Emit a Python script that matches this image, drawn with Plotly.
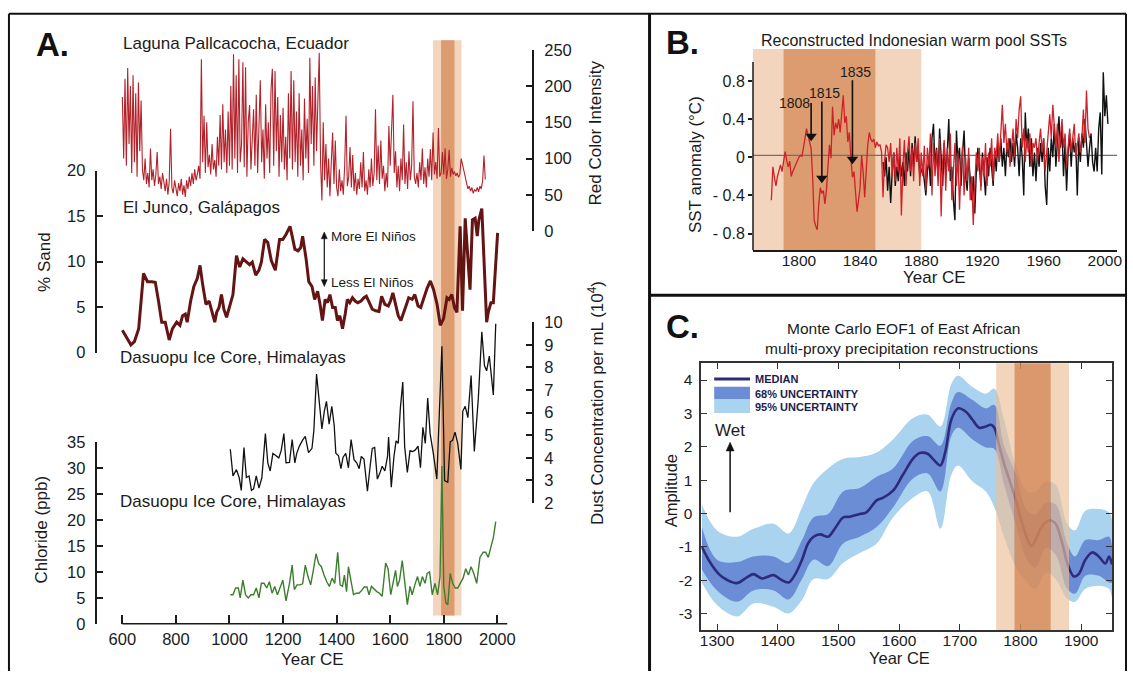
import plotly.graph_objects as go

W, H = 1133, 680
def fx(x): return x / W
def fy(y): return 1 - y / H

FONT = "Liberation Sans, Arial, Helvetica, sans-serif"
INK = "#1b1b1b"

# ---------------- Panel A data ----------------
# Laguna Pallcacocha red colour intensity, 5-year samples from 600 CE
pall_start = 600
pall_step = 5
pall_vals = [
    185, 100, 210, 90, 225, 120, 200, 80, 215, 95, 190, 75, 205, 110, 180, 85, 70, 100, 65, 80,
    60, 114, 70, 85, 62, 78, 109, 65, 75, 58, 80, 66, 55, 72, 50, 68, 141, 60, 52, 70,
    58, 48, 66, 55, 72, 50, 63, 47, 70, 58, 75, 62, 80, 65, 85, 70, 78, 90, 72, 237,
    95, 159, 80, 150, 88, 105, 78, 120, 85, 98, 75, 130, 90, 160, 85, 175, 95, 140, 80, 165,
    90, 200, 85, 244, 100, 215, 80, 237, 95, 120, 233, 88, 226, 75, 150, 174, 85, 130, 168, 90,
    188, 80, 160, 208, 95, 140, 72, 175, 100, 150, 80, 195, 224, 90, 221, 110, 185, 75, 160, 95,
    170, 85, 130, 70, 190, 100, 221, 85, 208, 95, 165, 75, 190, 90, 140, 70, 183, 100, 155, 80,
    239, 120, 200, 90, 212, 110, 180, 246, 95, 42, 150, 70, 120, 60, 100, 48, 95, 136, 65, 125,
    60, 48, 85, 55, 70, 50, 90, 159, 62, 75, 116, 60, 105, 55, 80, 50, 72, 58, 95, 60,
    109, 55, 70, 50, 85, 60, 100, 62, 80, 168, 70, 118, 65, 125, 72, 90, 55, 80, 60, 145,
    90, 130, 188, 80, 110, 60, 90, 55, 100, 70, 147, 65, 95, 58, 110, 70, 90, 179, 75, 65,
    80, 60, 95, 70, 114, 65, 88, 60, 100, 75, 113, 70, 136, 78, 95, 72, 142, 75, 80, 109,
    78, 114, 72, 85, 112, 75, 87, 78, 82, 76, 80, 74, 78, 100, 92, 87, 75, 66, 58, 62,
    55, 60, 52, 57, 55, 60, 54, 62, 58, 69, 104, 71,
]
pall_years = [pall_start + pall_step * i for i in range(len(pall_vals))]

# El Junco % sand
junco_years = [
    600, 617, 632, 645, 661, 679, 694, 710, 723, 735,
    747, 760, 775, 787, 803, 815, 825, 835, 842, 855,
    867, 880, 890, 900, 912, 924, 933, 945, 952, 961,
    970, 979, 989, 999, 1013, 1026, 1038, 1050, 1063, 1075,
    1085, 1098, 1110, 1119, 1131, 1143, 1156, 1171, 1187, 1199,
    1211, 1226, 1234, 1244, 1256, 1266, 1273, 1286, 1296, 1308,
    1318, 1329, 1338, 1347, 1357, 1366, 1375, 1385, 1395, 1403,
    1412, 1422, 1432, 1440, 1449, 1459, 1469, 1479, 1491, 1502,
    1511, 1521, 1533, 1546, 1558, 1568, 1580, 1593, 1601, 1610,
    1620, 1630, 1640, 1651, 1661, 1669, 1682, 1692, 1704, 1714,
    1725, 1738, 1750, 1762, 1775, 1787, 1799, 1812, 1820, 1830,
    1840, 1849, 1861, 1870, 1880, 1890, 1898, 1907, 1917, 1925,
    1931, 1942, 1951, 1960, 1966, 1976, 1985, 1995, 2001,
]
junco_vals = [
    2.46, 1.57, 0.86, 1.21, 2.64, 8.7, 7.8, 7.8, 7.74, 5.67,
    3.35, 3.35, 1.39, 2.64, 3.35, 3.0, 4.06, 4.24, 3.35, 5.67,
    7.27, 8.16, 9.59, 7.45, 5.31, 5.67, 4.6, 3.35, 4.42, 4.96,
    6.38, 4.78, 3.89, 4.96, 6.38, 10.66, 9.41, 10.3, 9.95, 9.66,
    9.95, 8.52, 9.06, 9.95, 12.44, 12.09, 10.12, 9.06, 12.44, 12.44,
    12.98, 13.87, 12.8, 11.37, 11.19, 11.55, 12.8, 10.3, 7.8, 7.27,
    5.85, 6.74, 5.31, 3.53, 5.85, 5.49, 6.38, 4.96, 4.96, 3.53,
    4.06, 2.64, 4.24, 5.85, 5.49, 6.03, 5.67, 5.49, 5.67, 6.03,
    6.2, 5.49, 4.78, 4.6, 4.53, 6.2, 5.31, 5.13, 5.67, 6.56,
    5.31, 4.06, 3.53, 4.6, 5.31, 6.03, 5.85, 6.38, 5.13, 4.96,
    6.03, 7.09, 7.88, 6.92, 5.31, 3.0, 3.71, 6.03, 5.85, 6.38,
    4.96, 4.42, 13.87, 4.6, 14.76, 10.3, 6.92, 14.58, 14.76, 12.8,
    14.58, 15.83, 10.3, 3.35, 4.42, 5.49, 5.49, 10.66, 13.16,
]

# Dasuopu dust concentration (10^4 per mL)
dust_years = [
    1003, 1013, 1026, 1036, 1044, 1054, 1063, 1073, 1082, 1090,
    1100, 1110, 1121, 1134, 1143, 1152, 1162, 1172, 1184, 1193,
    1203, 1211, 1224, 1234, 1244, 1251, 1261, 1273, 1283, 1295,
    1308, 1315, 1325, 1335, 1345, 1354, 1362, 1372, 1382, 1391,
    1397, 1407, 1416, 1424, 1434, 1444, 1454, 1465, 1475, 1484,
    1492, 1502, 1515, 1525, 1533, 1542, 1552, 1560, 1570, 1580,
    1590, 1594, 1604, 1614, 1622, 1630, 1638, 1647, 1654, 1664,
    1674, 1684, 1694, 1704, 1713, 1722, 1731, 1740, 1749, 1761,
    1774, 1793, 1803, 1815, 1824, 1833, 1842, 1852, 1864, 1871,
    1880, 1890, 1902, 1914, 1929, 1942, 1952, 1960, 1970, 1985,
    1994,
]
dust_vals = [
    4.38, 3.2, 3.48, 3.13, 2.56, 4.46, 3.13, 3.2, 2.56, 2.63,
    3.2, 2.66, 3.13, 5.07, 3.78, 3.42, 4.2, 4.1, 4.0, 4.32,
    5.07, 3.78, 3.8, 4.81, 3.78, 4.2, 4.52, 4.78, 4.95, 4.23,
    4.42, 5.21, 7.71, 6.5, 5.28, 6.07, 6.5, 5.49, 6.28, 5.42,
    4.2, 4.09, 3.52, 4.03, 4.2, 3.56, 4.81, 3.92, 3.78, 3.52,
    4.06, 3.95, 2.52, 3.63, 4.42, 4.46, 3.06, 3.28, 3.63, 3.42,
    4.06, 4.92, 2.7, 4.06, 4.75, 4.64, 6.21, 7.35, 4.49, 3.35,
    4.32, 4.28, 4.35, 4.52, 3.56, 5.35, 4.64, 6.64, 5.07, 4.2,
    3.06, 8.93, 2.99, 2.92, 4.71, 4.78, 5.14, 4.64, 3.49, 6.07,
    6.28, 5.78, 7.64, 4.28, 6.64, 9.57, 8.07, 7.85, 8.5, 6.78,
    9.93,
]

# Dasuopu chloride (ppb)
chl_years = [
    1003, 1013, 1023, 1033, 1040, 1050, 1060, 1070, 1080, 1090,
    1100, 1110, 1119, 1129, 1139, 1149, 1159, 1169, 1179, 1189,
    1199, 1211, 1224, 1234, 1242, 1252, 1263, 1273, 1283, 1293,
    1303, 1313, 1323, 1333, 1343, 1353, 1363, 1373, 1383, 1393,
    1404, 1413, 1422, 1429, 1437, 1444, 1454, 1463, 1473, 1483,
    1493, 1503, 1513, 1521, 1530, 1540, 1550, 1560, 1570, 1583,
    1592, 1602, 1610, 1620, 1627, 1635, 1645, 1655, 1664, 1674,
    1682, 1692, 1702, 1711, 1720, 1730, 1738, 1747, 1757, 1767,
    1777, 1786, 1793, 1800, 1808, 1815, 1824, 1833, 1843, 1852,
    1862, 1872, 1882, 1892, 1902, 1912, 1923, 1935, 1947, 1956,
    1966, 1976, 1985, 1994,
]
chl_vals = [
    5.6, 5.6, 6.9, 6.9, 5.0, 8.4, 5.6, 5.0, 5.6, 5.6,
    6.9, 5.0, 7.8, 7.8, 6.9, 8.1, 5.9, 7.2, 5.6, 7.2,
    8.4, 4.4, 7.8, 11.3, 6.6, 7.5, 7.5, 7.7, 11.3, 9.1,
    7.5, 10.3, 13.5, 11.6, 11.0, 9.4, 8.1, 7.2, 8.8, 7.8,
    13.8, 7.5, 7.2, 9.4, 6.2, 11.0, 7.8, 5.6, 5.9, 5.9,
    6.4, 7.1, 7.1, 5.6, 7.2, 6.6, 6.2, 5.9, 5.3, 11.7,
    10.6, 5.6, 7.8, 10.3, 7.2, 8.4, 12.2, 7.2, 3.7, 7.2,
    5.6, 7.5, 9.1, 7.2, 9.1, 7.8, 9.7, 10.0, 5.6, 7.8,
    5.6, 9.1, 30.4, 7.2, 4.0, 3.7, 9.7, 7.8, 6.9, 6.9,
    7.8, 8.8, 10.6, 9.4, 11.0, 9.7, 7.8, 12.8, 13.8, 13.8,
    12.8, 14.7, 16.6, 19.7,
]

# ---------------- Panel B data ----------------
sst_red_start = 1782
sst_red = [
    -0.45, -0.10, -0.21, -0.30, -0.20, -0.12, -0.08, -0.15, -0.03, 0.06,
    -0.03, -0.10, -0.04, -0.20, -0.15, -0.11, -0.06, -0.04, 0.00, 0.02,
    0.01, 0.10, 0.19, 0.30, 0.23, 0.15, 0.09, -0.21, -0.66, -0.72,
    -0.76, -0.49, -0.32, -0.38, -0.35, -0.49, -0.35, -0.10, 0.13, -0.01,
    0.53, 0.23, 0.36, 0.30, 0.40, 0.26, 0.43, 0.65, 0.36, 0.43,
    0.16, 0.26, -0.01, -0.21, -0.15, -0.42, -0.57, -0.45, -0.32, 0.02,
    -0.15, -0.42, -0.11, 0.13, 0.26, 0.19, 0.16, 0.19, 0.10, 0.16,
    0.12, 0.13, 0.06, -0.42, -0.04, 0.13,
    0.10, -0.05, 0.15, -0.20, 0.05, -0.25, 0.10, -0.15, 0.20, -0.61,
    -0.10, 0.18, -0.30, 0.05, 0.22, -0.15, 0.10, -0.25, 0.15, -0.05,
    0.20, -0.30, 0.05, -0.20, 0.12, -0.35, 0.10, -0.10, 0.25, -0.40,
    0.15, -0.20, 0.08, -0.30, 0.20, -0.62, -0.05, 0.18, -0.35, 0.10,
    -0.15, 0.25, -0.45, -0.10, 0.15, -0.30, 0.05, -0.55, -0.10, 0.12,
    -0.40, 0.00, -0.25, 0.10, -0.45, -0.20, -0.71, -0.30, 0.05, -0.15,
    0.10, -0.35, 0.00, -0.20, 0.15, -0.30, 0.05, -0.10, 0.20, -0.25,
    0.10, 0.00, 0.25, -0.05, 0.30, 0.55, 0.15, 0.35, 0.05, 0.20,
    -0.10, 0.15, 0.30, 0.00, 0.40, 0.20, 0.50, 0.64, 0.10, 0.30,
    -0.05, 0.20, 0.05, 0.25, -0.10, 0.15, 0.10, 0.20, -0.05, 0.15,
    0.30, 0.05, 0.20, -0.15, 0.10, 0.25, 0.45, 0.20, 0.55, 0.30,
    0.10, 0.35, -0.05, 0.20, 0.40, 0.10, 0.25, -0.10, 0.15, 0.30,
    0.05, 0.20, 0.35, 0.00, 0.15, 0.25, 0.05, 0.20, 0.50, 0.15,
    0.70, 0.30, 0.20,
]
sst_red_years = [sst_red_start + i for i in range(len(sst_red))]

sst_blk_start = 1855
sst_blk = [
    -0.05, -0.20, 0.00, -0.35, -0.10, -0.48, -0.15, 0.05, -0.30, -0.10,
    -0.25, 0.00, -0.20, -0.05, -0.30, 0.05, -0.15, 0.10, -0.20, 0.15,
    -0.10, 0.22, -0.05, 0.10, -0.20, -0.15, -0.10, -0.25, -0.40, -0.15,
    0.00, -0.30, 0.20, 0.35, -0.10, 0.10, -0.20, 0.30, 0.00, -0.30,
    0.15, -0.20, 0.05, 0.40, -0.25, -0.10, -0.45, -0.66, 0.28, -0.05,
    0.10, -0.30, 0.05, 0.28, -0.20, -0.35, 0.00, -0.25, -0.45, -0.20,
    -0.59, -0.15, 0.10, -0.10, -0.30, 0.05, -0.15, -0.40, 0.00, -0.20,
    0.10, -0.10, -0.30, 0.05, -0.15, 0.15, -0.05, 0.20, -0.10, 0.10,
    -0.20, 0.15, 0.00, 0.20, -0.05, 0.15, -0.10, 0.25, 0.10, -0.20,
    0.20, 0.00, -0.40, 0.47, 0.10, 0.30, -0.10, 0.20, -0.20, 0.05,
    -0.25, 0.10, -0.10, 0.15, -0.05, 0.20, -0.30, -0.50, 0.10, -0.15,
    0.20, 0.00, 0.35, -0.10, 0.25, 0.43, 0.10, 0.30, -0.20, 0.15,
    -0.35, 0.05, 0.25, -0.10, 0.20, 0.05, 0.15, -0.40, 0.20, -0.05,
    0.25, 0.10, 0.40, 0.15, -0.10, 0.10, 0.25, -0.05, -0.15, 0.10,
    -0.15, 0.30, 0.47, -0.18, 0.89, 0.43, 0.65, 0.35,
]
sst_blk_years = [sst_blk_start + i for i in range(len(sst_blk))]

eruption_years = [1808, 1815, 1835]
eruption_labels = ["1808", "1815", "1835"]
arrow_top = [0.57, 0.585, 0.807]
arrow_tip = [0.22, -0.22, -0.02]

# ---------------- Panel C data ----------------
c_med_years = [
    1275, 1289, 1303, 1316, 1333, 1349, 1360, 1374, 1393, 1404,
    1418, 1429, 1440, 1450, 1459, 1470, 1483, 1494, 1508, 1519,
    1535, 1546, 1563, 1574, 1590, 1606, 1623, 1634, 1647, 1658,
    1668, 1676, 1686, 1697, 1710, 1721, 1732, 1743, 1751, 1757,
    1765, 1773, 1781, 1792, 1803, 1811, 1818, 1825, 1833, 1842,
    1850, 1858, 1869, 1877, 1888, 1896, 1907, 1918, 1929, 1940,
    1946, 1951,
]
c_med = [
    -1.0, -1.48, -1.82, -1.99, -2.09, -1.92, -1.82, -1.95, -1.85, -1.97,
    -2.07, -1.82, -1.39, -0.9, -0.7, -0.63, -0.7, -0.46, -0.12, -0.1,
    -0.02, 0.03, 0.39, 0.47, 0.68, 1.15, 1.64, 1.81, 1.79, 1.59,
    1.44, 1.83, 2.81, 3.15, 3.05, 2.81, 2.57, 2.61, 2.66, 2.57,
    2.03, 1.49, 1.05, 0.42, -0.31, -0.75, -0.98, -0.80, -0.46, -0.26,
    -0.21, -0.31, -0.90, -1.48, -1.89, -1.82, -1.39, -1.17, -1.29, -1.50,
    -1.29, -1.53,
]
c_band_years = [
    1275, 1300, 1333, 1360, 1393, 1418, 1440, 1459, 1483, 1508,
    1535, 1563, 1590, 1623, 1647, 1668, 1686, 1697, 1721, 1743,
    1757, 1773, 1792, 1811, 1825, 1842, 1858, 1877, 1890, 1907,
    1929, 1946, 1951,
]
c68_hi = [
    -0.41, -1.39, -1.46, -1.29, -1.29, -1.48, -0.8, -0.12, -0.02, 0.66,
    0.76, 1.1, 1.35, 2.18, 2.32, 2.03, 3.3, 3.64, 3.4, 3.15,
    3.25, 2.03, 1.2, 0.08, -0.02, 0.32, 0.27, -0.9, -1.29, -0.8,
    -0.8, -0.7, -1.0,
]
c68_lo = [
    -1.68, -2.31, -2.65, -2.31, -2.31, -2.58, -1.97, -1.39, -1.58, -0.9,
    -0.7, -0.41, 0.18, 1.05, 1.2, 0.66, 2.32, 2.57, 2.22, 1.98,
    1.93, 0.86, -0.31, -1.39, -1.63, -1.04, -1.24, -2.26, -2.41, -1.87,
    -1.87, -2.07, -2.07,
]
c95_hi = [
    0.27, -0.51, -0.7, -0.46, -0.31, -0.6, 0.18, 0.91, 1.35, 1.64,
    1.69, 1.83, 2.22, 2.86, 2.96, 2.61, 3.88, 4.13, 3.79, 3.59,
    3.74, 2.81, 1.44, 0.66, 0.66, 0.96, 0.86, -0.31, -0.51, 0.08,
    0.13, 0.03, -0.2,
]
c95_lo = [
    -2.07, -2.75, -3.09, -2.7, -2.8, -3.0, -2.6, -1.97, -1.97, -1.48,
    -1.19, -0.9, -0.12, 0.47, 0.66, -0.46, 1.15, 1.44, 0.96, 0.66,
    0.18, -0.7, -1.58, -2.07, -2.26, -1.78, -1.97, -2.56, -2.65, -2.26,
    -2.17, -2.26, -2.5,
]

# shaded periods
a_light = (1760, 1866)
a_dark = (1790, 1840)
b_light = (1770, 1880)
b_dark = (1790, 1850)
c_light = (1760, 1880)
c_dark = (1790, 1850)

LIGHT = "#f3d5be"
DARK = "#dd9b70"

fig = go.Figure()

def line(x, y, xa, ya, color, width, shape="linear"):
    fig.add_trace(go.Scatter(x=x, y=y, xaxis=xa, yaxis=ya, mode="lines",
                             line=dict(color=color, width=width, shape=shape),
                             hoverinfo="skip", showlegend=False))

# Panel A
line(pall_years, pall_vals, "x", "y", "#b3222a", 1.1)
line(junco_years, junco_vals, "x", "y2", "#651414", 3.0)
line(dust_years, dust_vals, "x", "y3", "#111111", 1.3)
line(chl_years, chl_vals, "x", "y4", "#3c7e2e", 1.4)

# Panel B
line(sst_blk_years, sst_blk, "x2", "y5", "#111111", 1.4)
line(sst_red_years, sst_red, "x2", "y5", "#cc2229", 1.3)
fig.add_trace(go.Scatter(x=eruption_years, y=arrow_tip, xaxis="x2", yaxis="y5", mode="markers",
                         marker=dict(symbol="triangle-down", size=10, color="#111111"),
                         hoverinfo="skip", showlegend=False))

# Panel C
fig.add_trace(go.Scatter(x=c_band_years + c_band_years[::-1], y=c95_hi + c95_lo[::-1],
                         xaxis="x3", yaxis="y6", mode="lines", fill="toself",
                         fillcolor="#a9d3ef", line=dict(width=0, shape="spline", color="#a9d3ef"),
                         hoverinfo="skip", showlegend=False))
fig.add_trace(go.Scatter(x=c_band_years + c_band_years[::-1], y=c68_hi + c68_lo[::-1],
                         xaxis="x3", yaxis="y6", mode="lines", fill="toself",
                         fillcolor="#6a8dd5", line=dict(width=0, shape="spline", color="#6a8dd5"),
                         hoverinfo="skip", showlegend=False))
line(c_med_years, c_med, "x3", "y6", "#2e2b7c", 2.6, "spline")

shapes = []
# Panel A shading
for (a, b), col in ((a_light, LIGHT), (a_dark, DARK)):
    shapes.append(dict(type="rect", xref="x", yref="paper", x0=a, x1=b, y0=fy(623), y1=fy(32),
                       fillcolor=col, line=dict(width=0), layer="below"))
# Panel A x-axis line
shapes.append(dict(type="line", xref="x", yref="paper", x0=600, x1=2037, y0=fy(631.5), y1=fy(631.5),
                   line=dict(color=INK, width=1.5)))
# Panel B shading
for (a, b), col in ((b_light, LIGHT), (b_dark, DARK)):
    shapes.append(dict(type="rect", xref="x2", yref="paper", x0=a, x1=b, y0=fy(247.5), y1=fy(41),
                       fillcolor=col, line=dict(width=0), layer="below"))
shapes.append(dict(type="line", xref="x2", yref="y5", x0=1770, x1=2008, y0=0.02, y1=0.02,
                   line=dict(color="#707070", width=1.3), layer="below"))
shapes.append(dict(type="line", xref="paper", yref="y5", x0=fx(756), x1=fx(756), y0=-0.977, y1=1.0,
                   line=dict(color=INK, width=1.5)))
for yr, t0, t1 in zip(eruption_years, arrow_top, arrow_tip):
    shapes.append(dict(type="line", xref="x2", yref="y5", x0=yr, x1=yr, y0=t0, y1=t1,
                       line=dict(color="#111111", width=1.6)))
# Panel C shading (above data, translucent)
for (a, b) in ((c_light[0], c_dark[0]), (c_dark[1], c_light[1])):
    shapes.append(dict(type="rect", xref="x3", yref="paper", x0=a, x1=b, y0=fy(638), y1=fy(364),
                       fillcolor="rgb(236,190,150)", opacity=0.65, line=dict(width=0), layer="above"))
shapes.append(dict(type="rect", xref="x3", yref="paper", x0=c_dark[0], x1=c_dark[1], y0=fy(638), y1=fy(364),
                   fillcolor="rgb(214,135,85)", opacity=0.86, line=dict(width=0), layer="above"))
# Panel C legend samples
shapes.append(dict(type="line", xref="paper", yref="paper", x0=fx(717), x1=fx(753), y0=fy(380), y1=fy(380),
                   line=dict(color="#2e2b7c", width=3)))
shapes.append(dict(type="rect", xref="paper", yref="paper", x0=fx(717), x1=fx(753), y0=fy(401), y1=fy(388),
                   fillcolor="#6a8dd5", line=dict(width=0)))
shapes.append(dict(type="rect", xref="paper", yref="paper", x0=fx(717), x1=fx(753), y0=fy(415), y1=fy(401),
                   fillcolor="#a9d3ef", line=dict(width=0)))

# Panel borders and drawn arrows (paper pixels)
def pline(x0, y0, x1, y1, w):
    shapes.append(dict(type="line", xref="paper", yref="paper", x0=fx(x0), y0=fy(y0), x1=fx(x1), y1=fy(y1),
                       line=dict(color="#111111", width=w)))

def head(xt, yt, direction, half=3.5, length=8):
    yb = yt + length if direction == "up" else yt - length
    path = "M %f,%f L %f,%f L %f,%f Z" % (fx(xt), fy(yt), fx(xt - half), fy(yb), fx(xt + half), fy(yb))
    shapes.append(dict(type="path", xref="paper", yref="paper", path=path,
                       fillcolor="#111111", line=dict(color="#111111", width=0.5)))

pline(8, 5, 1131, 5, 2)
pline(8, 5, 8, 680, 2)
pline(652, 5, 652, 680, 3)
pline(652, 294, 1131, 294, 3)
pline(1131, 5, 1131, 680, 2)

# "More / Less El Niños" double arrow
pline(325, 235, 325, 279, 1.2)
head(325, 229, "up", 3, 7)
head(325, 285, "down", 3, 7)
# "Wet" arrow
pline(733, 517, 733, 452, 1.5)
head(733, 445, "up", 4, 9)

fig.update_layout(shapes=shapes)

ann = []
def txt(x, y, s, size, xanchor="left", bold=False, angle=0, color=INK):
    ann.append(dict(xref="paper", yref="paper", x=fx(x), y=fy(y), text=("<b>%s</b>" % s) if bold else s,
                    showarrow=False, xanchor=xanchor, yanchor="middle", textangle=angle,
                    font=dict(family=FONT, size=size, color=color)))

# Panel A text
txt(33, 36, "A.", 33, bold=True, color="#111111")
txt(121, 35, "Laguna Pallcacocha, Ecuador", 17)
txt(121, 204, "El Junco, Galápagos", 17)
txt(118, 358, "Dasuopu Ice Core, Himalayas", 17)
txt(118, 506, "Dasuopu Ice Core, Himalayas", 17)
txt(330, 234, "More El Niños", 13.5)
txt(330, 281, "Less El Niños", 13.5)
txt(43, 260, "% Sand", 17, "center", angle=-90)
txt(41, 535, "Chloride (ppb)", 17, "center", angle=-90)
txt(598, 127, "Red Color Intensity", 17, "center", angle=-90)
txt(598, 405, "Dust Concentration per mL (10<sup>4</sup>)", 17, "center", angle=-90)
txt(313, 668, "Year CE", 17, "center")

# Panel B text
txt(667, 34, "B.", 33, bold=True, color="#111111")
txt(918, 32, "Reconstructed Indonesian warm pool SSTs", 16, "center")
txt(698, 160, "SST anomaly (°C)", 17, "center", angle=-90)
txt(938, 276, "Year CE", 17, "center")
ann.append(dict(xref="x2", yref="y5", x=eruption_years[0], y=arrow_top[0], text=eruption_labels[0],
                showarrow=False, xanchor="right", yanchor="middle", xshift=1,
                font=dict(family=FONT, size=14, color=INK)))
for i in (1, 2):
    ann.append(dict(xref="x2", yref="y5", x=eruption_years[i], y=arrow_top[i], text=eruption_labels[i],
                    showarrow=False, xanchor="center", yanchor="bottom", xshift=3, yshift=-2,
                    font=dict(family=FONT, size=14, color=INK)))

# Panel C text
txt(667, 326, "C.", 33, bold=True, color="#111111")
txt(907, 328, "Monte Carlo EOF1 of East African", 15.5, "center")
txt(905, 349, "multi-proxy precipitation reconstructions", 15.5, "center")
txt(673, 495, "Amplitude", 16.5, "center", angle=-90)
txt(903, 667, "Year CE", 16.5, "center")
txt(716, 433, "Wet", 17)
txt(756, 380, "MEDIAN", 11, bold=True, color="#1c1c4e")
txt(756, 395, "68% UNCERTAINTY", 11, bold=True, color="#1c1c4e")
txt(756, 409, "95% UNCERTAINTY", 11, bold=True, color="#1c1c4e")

fig.update_layout(annotations=ann)

axA = dict(showgrid=False, zeroline=False, showline=True, linecolor=INK, linewidth=1.5,
           ticks="inside", ticklen=6, tickwidth=1.5, tickcolor=INK,
           tickfont=dict(family=FONT, size=16.5, color=INK), ticklabelstandoff=7, fixedrange=True)

fig.update_layout(
    width=W, height=H, margin=dict(l=0, r=0, t=0, b=0),
    paper_bgcolor="white", plot_bgcolor="rgba(0,0,0,0)", showlegend=False,
    font=dict(family=FONT, color=INK),
    xaxis=dict(domain=[fx(97), fx(534)], range=[507.2, 2130], anchor="y4", showline=False,
               showgrid=False, zeroline=False, ticks="inside", ticklen=9, tickwidth=1.5, tickcolor=INK,
               tickvals=[600, 800, 1000, 1200, 1400, 1600, 1800, 2000],
               tickfont=dict(family=FONT, size=16.5, color=INK), ticklabelstandoff=4),
    yaxis=dict(axA, domain=[fy(228), fy(42)], range=[0, 250], anchor="x", side="right",
               tickvals=[0, 50, 100, 150, 200, 250]),
    yaxis2=dict(axA, domain=[fy(353), fy(166)], range=[0, 20], anchor="x", side="left",
                tickvals=[0, 5, 10, 15, 20]),
    yaxis3=dict(axA, domain=[fy(507.5), fy(321.7)], range=[2, 10], anchor="x", side="right",
                tickvals=[2, 3, 4, 5, 6, 7, 8, 9, 10]),
    yaxis4=dict(axA, domain=[fy(631.5), fy(445)], range=[0, 35], anchor="x", side="left",
                tickvals=[0, 5, 10, 15, 20, 25, 30, 35]),
    xaxis2=dict(domain=[fx(756), fx(1122)], range=[1770, 2008], anchor="y5", showline=True,
                linecolor=INK, linewidth=1.5, showgrid=False, zeroline=False, ticks="",
                tickvals=[1800, 1840, 1880, 1920, 1960, 2000],
                tickfont=dict(family=FONT, size=15.5, color=INK), ticklabelstandoff=-5),
    yaxis5=dict(domain=[fy(248), fy(41)], range=[-0.977, 1.136], anchor="x2", showline=False,
                showgrid=False, zeroline=False, ticks="outside", ticklen=4, tickwidth=1.5, tickcolor=INK,
                tickvals=[-0.8, -0.4, 0, 0.4, 0.8], ticktext=["- 0.8", "- 0.4", "0", "0.4", "0.8"],
                tickfont=dict(family=FONT, size=16, color=INK)),
    xaxis3=dict(domain=[fx(704), fx(1117)], range=[1274, 1951], anchor="y6", showline=True, mirror="ticks",
                linecolor="#333333", linewidth=1.5, showgrid=False, zeroline=False, ticks="inside",
                ticklen=6, tickwidth=1.3, tickcolor="#333333",
                tickvals=[1300, 1400, 1500, 1600, 1700, 1800, 1900],
                tickfont=dict(family=FONT, size=15.5, color=INK), ticklabelstandoff=-4),
    yaxis6=dict(domain=[fy(638), fy(364)], range=[-3.5, 4.5], anchor="x3", showline=True, mirror="ticks",
                linecolor="#333333", linewidth=1.5, showgrid=False, zeroline=False, ticks="inside",
                ticklen=6, tickwidth=1.3, tickcolor="#333333",
                tickvals=[-3, -2, -1, 0, 1, 2, 3, 4], ticktext=["-3", "-2", "-1", "0", "1", "2", "3", "4"],
                tickfont=dict(family=FONT, size=15.5, color=INK), ticklabelstandoff=4),
)

fig.write_html("out.html")
